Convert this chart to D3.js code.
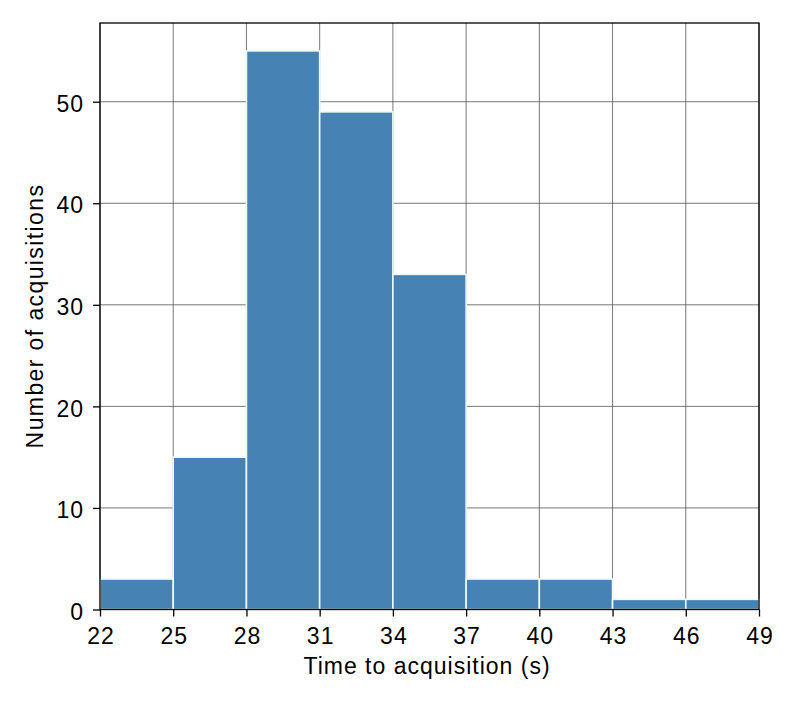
<!DOCTYPE html>
<html><head><meta charset="utf-8">
<script src="https://cdn.jsdelivr.net/npm/d3@7"></script>
<style>
html,body{margin:0;padding:0;background:#fff;}
text{font-family:"Liberation Sans",Arial,Helvetica,sans-serif;fill:#000;}
</style></head>
<body><svg id="c" width="798" height="704"></svg>
<script>
const binEdges = [22,25,28,31,34,37,40,43,46,49];
const counts = [3,15,55,49,33,3,3,1,1];
const xTicks = [22,25,28,31,34,37,40,43,46,49];
const yTicks = [0,10,20,30,40,50];

const W=798,H=704, m={l:100,r:39,t:23,b:94.5};
const svg=d3.select("#c");
const x=d3.scaleLinear().domain([22,49]).range([m.l,W-m.r]);
const y=d3.scaleLinear().domain([0,57.75]).range([H-m.b,m.t]);

// grid
const g=svg.append("g");
g.selectAll(".vx").data(xTicks).enter().append("line")
 .attr("x1",d=>x(d)).attr("x2",d=>x(d)).attr("y1",y(0)).attr("y2",m.t)
 .attr("stroke","#555").attr("stroke-width",0.8);
g.selectAll(".hy").data(yTicks).enter().append("line")
 .attr("y1",d=>y(d)).attr("y2",d=>y(d)).attr("x1",m.l).attr("x2",W-m.r)
 .attr("stroke","#555").attr("stroke-width",0.8);

// bars
svg.selectAll(".bar").data(counts).enter().append("rect")
 .attr("x",(d,i)=>x(binEdges[i]))
 .attr("width",(d,i)=>x(binEdges[i+1])-x(binEdges[i]))
 .attr("y",d=>y(d)).attr("height",d=>y(0)-y(d))
 .attr("fill","#4682b4").attr("stroke","#eefaf2").attr("stroke-width",1.6);

// frame
svg.append("rect").attr("x",m.l).attr("y",m.t).attr("width",W-m.r-m.l).attr("height",y(0)-m.t)
 .attr("fill","none").attr("stroke","#000").attr("stroke-width",1.3);

// axes
const xa=svg.append("g").attr("transform",`translate(0,${y(0)})`)
 .call(d3.axisBottom(x).tickValues(xTicks).tickSize(7).tickPadding(11.5).tickFormat(d3.format("d")));
const ya=svg.append("g").attr("transform",`translate(${m.l},0)`)
 .call(d3.axisLeft(y).tickValues(yTicks).tickSize(7).tickPadding(9).tickFormat(d3.format("d")));
[xa,ya].forEach(a=>{a.attr("font-size",null).attr("font-family",null);
 a.select(".domain").remove();
 a.selectAll(".tick line").attr("stroke","#000").attr("stroke-width",1.3);
 a.selectAll(".tick text").attr("font-size",23).attr("letter-spacing",1);});
xa.selectAll(".tick text").attr("dx","0.5");
ya.selectAll(".tick text").attr("dy","0.42em");

svg.append("text").attr("x",427).attr("y",673.5).attr("text-anchor","middle")
 .attr("font-size",23).attr("letter-spacing",1).text("Time to acquisition (s)");
svg.append("text").attr("transform",`translate(43.3,316) rotate(-90)`).attr("text-anchor","middle")
 .attr("font-size",23).attr("letter-spacing",1.4).text("Number of acquisitions");
</script></body></html>
